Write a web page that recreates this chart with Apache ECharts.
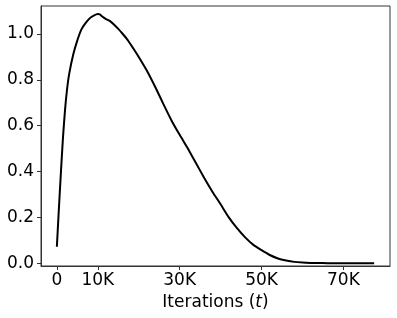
<!DOCTYPE html>
<html>
<head>
<meta charset="utf-8">
<script src="https://cdn.jsdelivr.net/npm/echarts@6/dist/echarts.min.js"></script>
<style>html,body{margin:0;padding:0;background:#fff;}#c{width:397px;height:318px;}</style>
</head>
<body>
<div id="c"></div>
<script>
// x in thousands of iterations
const iterK = [0, 0.5, 1, 1.5, 2, 2.5, 3, 4, 5, 6, 7, 8, 9, 10, 10.5, 11, 12, 13, 14, 15, 16, 17, 18, 19, 20, 22, 24, 26, 28, 30, 32, 34, 36, 38, 40, 42, 44, 46, 48, 50, 52, 54, 56, 58, 60, 62, 64, 66, 68, 70, 72, 74, 76, 77.5];
const values = [0.072, 0.24, 0.40, 0.55, 0.67, 0.76, 0.825, 0.91, 0.972, 1.02, 1.047, 1.068, 1.08, 1.087, 1.086, 1.077, 1.065, 1.056, 1.04, 1.022, 1.002, 0.981, 0.955, 0.928, 0.90, 0.84, 0.77, 0.695, 0.623, 0.56, 0.50, 0.436, 0.372, 0.312, 0.257, 0.20, 0.153, 0.113, 0.08, 0.057, 0.036, 0.021, 0.012, 0.006, 0.003, 0.0015, 0.0008, 0.0004, 0.0002, 0.0001, 0.0001, 0.0001, 0.0001, 0.0001];
const xTicks = [0, 10, 30, 50, 70];
const yTicks = [0, 0.2, 0.4, 0.6, 0.8, 1.0];

const chart = echarts.init(document.getElementById('c'), null, {renderer: 'canvas'});
const font = 'DejaVu Sans';
chart.setOption({
  animation: false,
  grid: {left: 41, top: 6, width: 349, height: 260, show: true, borderColor: '#333', borderWidth: 1, backgroundColor: 'transparent'},
  xAxis: {
    type: 'value', min: -3.875, max: 81.375,
    axisLine: {show: true, onZero: false, lineStyle: {color: '#333', width: 1}},
    splitLine: {show: false},
    axisTick: {show: true, inside: false, customValues: xTicks, length: 4, lineStyle: {color: '#333', width: 1}},
    axisLabel: {customValues: xTicks, fontFamily: font, fontSize: 17, color: '#000', margin: 6,
      formatter: v => v === 0 ? '0' : v + 'K'},
    name: '{a|Iterations (}{b|t}{a|)}', nameLocation: 'middle', nameGap: 26,
    nameTextStyle: {rich: {a: {fontFamily: font, fontSize: 17, color: '#000'}, b: {fontFamily: font, fontSize: 17, fontStyle: 'italic', color: '#000'}}}
  },
  yAxis: {
    type: 'value', min: -0.012, max: 1.122,
    axisLine: {show: true, onZero: false, lineStyle: {color: '#333', width: 1}},
    splitLine: {show: false},
    axisTick: {show: true, inside: false, customValues: yTicks, length: 4, lineStyle: {color: '#333', width: 1}},
    axisLabel: {customValues: yTicks, fontFamily: font, fontSize: 17, color: '#000', margin: 7,
      formatter: v => v.toFixed(1)}
  },
  series: [{
    type: 'line', data: iterK.map((x, i) => [x, values[i]]),
    showSymbol: false, smooth: 0.2,
    lineStyle: {color: '#000', width: 2}
  }]
});
</script>
</body>
</html>
